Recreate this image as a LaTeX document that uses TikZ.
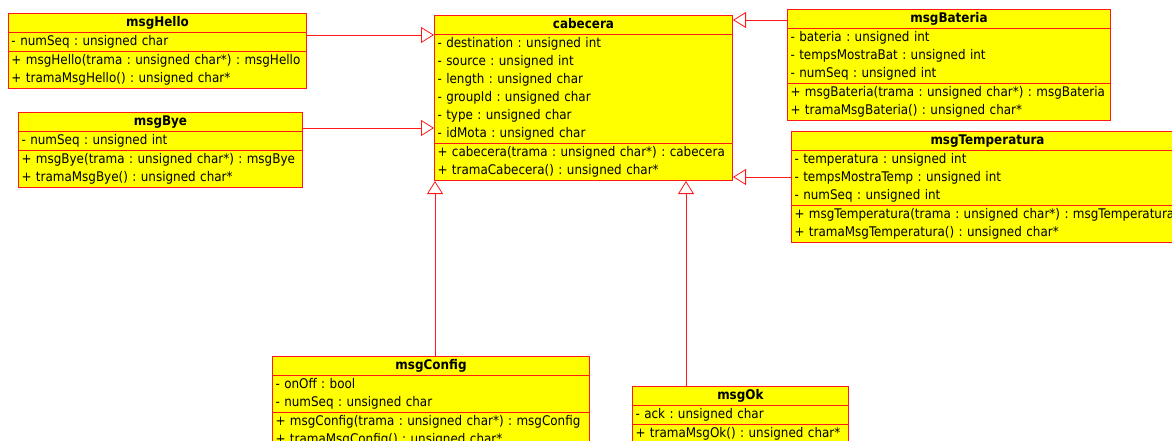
\documentclass[tikz,border=0pt]{standalone}
\usepackage{fontspec}
\setmainfont{DejaVu Sans Condensed}
\usetikzlibrary{shapes.multipart,arrows.meta}
\definecolor{umlred}{RGB}{255,25,25}
\definecolor{umlyellow}{RGB}{255,255,0}
\newcommand\umlfont{\fontsize{13.3}{18}\selectfont\frenchspacing}
\newcommand\ttl[1]{{\centering\strut\textbf{#1}\par}}
\newcommand\ul[1]{\mbox{\strut#1}}
\tikzset{
  umlclass/.style={rectangle split, rectangle split parts=3, draw=umlred, fill=umlyellow,
    line width=1pt, inner xsep=3pt, inner ysep=0pt, anchor=north west, font=\umlfont, align=left},
  inh/.style={draw=umlred, line width=0.8pt, -{Triangle[open,length=13pt,width=16pt,line width=0.8pt]}},
}
\begin{document}
\begin{tikzpicture}[x=1pt,y=-1pt]
\useasboundingbox (0,0) rectangle (1172,441);
\clip (0,0) rectangle (1172,441);

\node[umlclass, text width=292pt] (hello) at (8,13)
  {\ttl{msgHello}\nodepart{two}\ul{- numSeq : unsigned char}
   \nodepart{three}\ul{+ msgHello(trama : unsigned char*) : msgHello}\\\ul{+ tramaMsgHello() : unsigned char*}};

\node[umlclass, text width=278pt] (bye) at (18,112)
  {\ttl{msgBye}\nodepart{two}\ul{- numSeq : unsigned int}
   \nodepart{three}\ul{+ msgBye(trama : unsigned char*) : msgBye}\\\ul{+ tramaMsgBye() : unsigned char*}};

\node[umlclass, text width=292pt] (cab) at (434,15)
  {\ttl{cabecera}\nodepart{two}\ul{- destination : unsigned int}\\\ul{- source : unsigned int}\\\ul{- length : unsigned char}\\\ul{- groupId : unsigned char}\\\ul{- type : unsigned char}\\\ul{- idMota : unsigned char}
   \nodepart{three}\ul{+ cabecera(trama : unsigned char*) : cabecera}\\\ul{+ tramaCabecera() : unsigned char*}};

\node[umlclass, text width=317pt] (bat) at (787,9)
  {\ttl{msgBateria}\nodepart{two}\ul{- bateria : unsigned int}\\\ul{- tempsMostraBat : unsigned int}\\\ul{- numSeq : unsigned int}
   \nodepart{three}\ul{+ msgBateria(trama : unsigned char*) : msgBateria}\\\ul{+ tramaMsgBateria() : unsigned char*}};

\node[umlclass, text width=386pt] (temp) at (791,131)
  {\ttl{msgTemperatura}\nodepart{two}\ul{- temperatura : unsigned int}\\\ul{- tempsMostraTemp : unsigned int}\\\ul{- numSeq : unsigned int}
   \nodepart{three}\ul{+ msgTemperatura(trama : unsigned char*) : msgTemperatura}\\\ul{+ tramaMsgTemperatura() : unsigned char*}};

\node[umlclass, text width=311pt] (config) at (272,356)
  {\ttl{msgConfig}\nodepart{two}\ul{- onOff : bool}\\\ul{- numSeq : unsigned char}
   \nodepart{three}\ul{+ msgConfig(trama : unsigned char*) : msgConfig}\\\ul{+ tramaMsgConfig() : unsigned char*}};

\node[umlclass, text width=210pt] (ok) at (632,386)
  {\ttl{msgOk}\nodepart{two}\ul{- ack : unsigned char}
   \nodepart{three}\ul{+ tramaMsgOk() : unsigned char*}};

\draw[inh] (hello.north east |- 0,35) -- (cab.north west |- 0,35);
\draw[inh] (bye.north east |- 0,128) -- (cab.north west |- 0,128);
\draw[inh] (bat.north west |- 0,20) -- (cab.north east |- 0,20);
\draw[inh] (temp.north west |- 0,177) -- (cab.north east |- 0,177);
\draw[inh] (config.north west -| 435,0) -- (cab.south west -| 435,0);
\draw[inh] (ok.north west -| 686,0) -- (cab.south west -| 686,0);
\end{tikzpicture}
\end{document}
